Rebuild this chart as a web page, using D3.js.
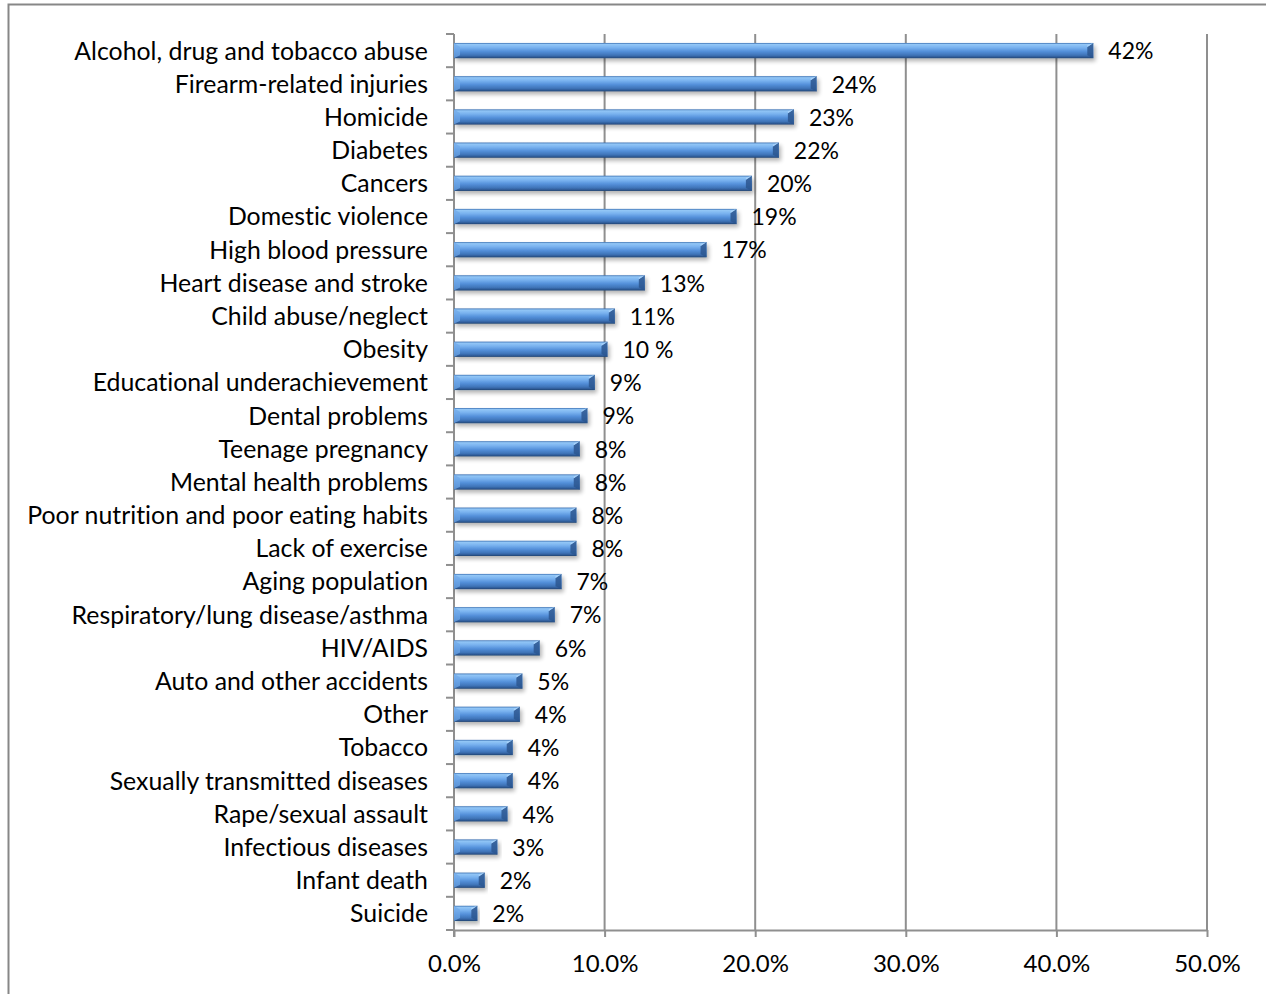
<!DOCTYPE html>
<html>
<head>
<meta charset="utf-8">
<script src="https://cdn.jsdelivr.net/npm/d3@7"></script>
<style>
  html, body { margin: 0; padding: 0; background: #fff; }
  svg { display: block; }
  text { font-family: Lato, "Open Sans", sans-serif; fill: #000; font-variant-ligatures: none; font-feature-settings: "liga" 0, "dlig" 0; letter-spacing: 0.01px; }
</style>
</head>
<body>
<svg id="chart" width="1266" height="994"></svg>
<script>
// Health issues named as most important in the community (% of responses)
const categories = [
  "Alcohol, drug and tobacco abuse",
  "Firearm-related injuries",
  "Homicide",
  "Diabetes",
  "Cancers",
  "Domestic violence",
  "High blood pressure",
  "Heart disease and stroke",
  "Child abuse/neglect",
  "Obesity",
  "Educational underachievement",
  "Dental problems",
  "Teenage pregnancy",
  "Mental health problems",
  "Poor nutrition and poor eating habits",
  "Lack of exercise",
  "Aging population",
  "Respiratory/lung disease/asthma",
  "HIV/AIDS",
  "Auto and other accidents",
  "Other",
  "Tobacco",
  "Sexually transmitted diseases",
  "Rape/sexual assault",
  "Infectious diseases",
  "Infant death",
  "Suicide"
];

const values = [
  42.45, 24.08, 22.57, 21.57, 19.78, 18.76, 16.77, 12.67, 10.68, 10.19,
  9.35, 8.86, 8.35, 8.35, 8.13, 8.13, 7.14, 6.69, 5.69, 4.54,
  4.37, 3.90, 3.90, 3.55, 2.88, 2.04, 1.55
];

const valueLabels = [
  "42%", "24%", "23%", "22%", "20%", "19%", "17%", "13%", "11%", "10 %",
  "9%", "9%", "8%", "8%", "8%", "8%", "7%", "7%", "6%", "5%",
  "4%", "4%", "4%", "4%", "3%", "2%", "2%"
];

const xTicks = [0, 10, 20, 30, 40, 50];

const svg = d3.select("#chart");
const W = 1266, H = 994;
const plot = { left: 454, right: 1207, top: 34, bottom: 930 };
const gridColor = "#8f8f8f";

// outer chart border (only the top and left edges fall inside the canvas)
svg.append("path")
  .attr("d", `M8.5,${H} V4.5 H${W}`)
  .attr("fill", "none")
  .attr("stroke", "#878787")
  .attr("stroke-width", 2);

const x = d3.scaleLinear().domain([0, 50]).range([plot.left, plot.right]);
const y = d3.scaleBand().domain(categories).range([plot.top, plot.bottom])
  .paddingInner(0.54).paddingOuter(0.27);

// defs: bevel gradient and soft shadow
const defs = svg.append("defs");
const grad = defs.append("linearGradient").attr("id", "barGrad")
  .attr("x1", 0).attr("y1", 0).attr("x2", 0).attr("y2", 1);
[
  [0, "#3b70b2"], [0.1, "#92c6f6"], [0.3, "#79b2ef"], [0.55, "#5490da"],
  [0.8, "#3f74b8"], [0.92, "#2e5a96"], [1, "#22446f"]
].forEach(([o, c]) => grad.append("stop").attr("offset", o).attr("stop-color", c));

const shadow = defs.append("filter").attr("id", "shadow")
  .attr("x", "-5%").attr("y", "-40%").attr("width", "115%").attr("height", "220%");
shadow.append("feGaussianBlur").attr("in", "SourceAlpha").attr("stdDeviation", 2).attr("result", "b");
shadow.append("feOffset").attr("in", "b").attr("dx", 2).attr("dy", 3).attr("result", "o");
shadow.append("feComponentTransfer").attr("in", "o").attr("result", "s")
  .append("feFuncA").attr("type", "linear").attr("slope", 0.3);
const merge = shadow.append("feMerge");
merge.append("feMergeNode").attr("in", "s");
merge.append("feMergeNode").attr("in", "SourceGraphic");

// vertical gridlines
svg.append("g").selectAll("line")
  .data(xTicks.filter(d => d > 0))
  .join("line")
  .attr("x1", d => x(d)).attr("x2", d => x(d))
  .attr("y1", plot.top).attr("y2", plot.bottom)
  .attr("stroke", gridColor).attr("stroke-width", 2);

// bottom axis
const xAxis = svg.append("g")
  .attr("transform", `translate(0,${plot.bottom})`)
  .call(d3.axisBottom(x).tickValues(xTicks).tickSize(7).tickSizeOuter(0)
    .tickFormat(d => d.toFixed(1) + "%"));
xAxis.select(".domain").attr("stroke", gridColor).attr("stroke-width", 2);
xAxis.selectAll(".tick line").attr("stroke", gridColor).attr("stroke-width", 2);
xAxis.selectAll(".tick text")
  .attr("y", 42).attr("dy", 0)
  .style("font-size", "24px");

// left axis with ticks on category boundaries
const yAxisG = svg.append("g");
yAxisG.append("line")
  .attr("x1", plot.left).attr("x2", plot.left)
  .attr("y1", plot.top).attr("y2", plot.bottom + 7)
  .attr("stroke", gridColor).attr("stroke-width", 2);
const step = y.step();
yAxisG.selectAll("line.tk")
  .data(d3.range(categories.length + 1))
  .join("line").attr("class", "tk")
  .attr("x1", plot.left - 8).attr("x2", plot.left)
  .attr("y1", i => plot.top + i * step).attr("y2", i => plot.top + i * step)
  .attr("stroke", gridColor).attr("stroke-width", 2);

// category labels
const catText = svg.append("g").selectAll("text")
  .data(categories)
  .join("text")
  .attr("x", 428)
  .attr("y", d => y(d) + y.bandwidth() / 2)
  .attr("dy", "0.36em")
  .attr("text-anchor", "end")
  .style("font-size", "22px")
  .text(d => d);

// fit the label size to the space left of the axis
const longest = catText.filter(d => d === "Poor nutrition and poor eating habits").node();
const fitSize = 22 * 401 / longest.getComputedTextLength();
catText.style("font-size", fitSize + "px");

// bars
const bh = y.bandwidth();
const rows = categories.map((c, i) => ({ c, v: values[i], label: valueLabels[i] }));
const bars = svg.append("g").selectAll("g")
  .data(rows)
  .join("g")
  .attr("filter", "url(#shadow)");

bars.append("rect")
  .attr("x", x(0))
  .attr("y", d => y(d.c))
  .attr("width", d => x(d.v) - x(0))
  .attr("height", bh)
  .attr("fill", "url(#barGrad)");

// bevelled ends
bars.append("path")
  .attr("d", d => {
    const x1 = x(d.v), y0 = y(d.c);
    return `M${x1},${y0} L${x1},${y0 + bh} L${x1 - 6},${y0 + bh - 3} L${x1 - 6},${y0 + 4} Z`;
  })
  .attr("fill", "#2b568f").attr("opacity", 0.85);
bars.append("path")
  .attr("d", d => {
    const x1 = x(d.v), y0 = y(d.c);
    return `M${x1},${y0} L${x1 - 6},${y0 + 4} L${x1 - 6},${y0 + 2} Z`;
  })
  .attr("fill", "#a8d2fa");
bars.append("path")
  .attr("d", d => {
    const x0 = x(0), y0 = y(d.c);
    return `M${x0},${y0} L${x0 + 6},${y0 + 4} L${x0 + 6},${y0 + bh - 3} L${x0},${y0 + bh} Z`;
  })
  .attr("fill", "#6fa8e8").attr("opacity", 0.7);

// value labels
svg.append("g").selectAll("text")
  .data(rows)
  .join("text")
  .attr("x", d => x(d.v) + 15)
  .attr("y", d => y(d.c) + bh / 2)
  .attr("dy", "0.38em")
  .style("font-size", "23px")
  .text(d => d.label);
</script>
</body>
</html>
